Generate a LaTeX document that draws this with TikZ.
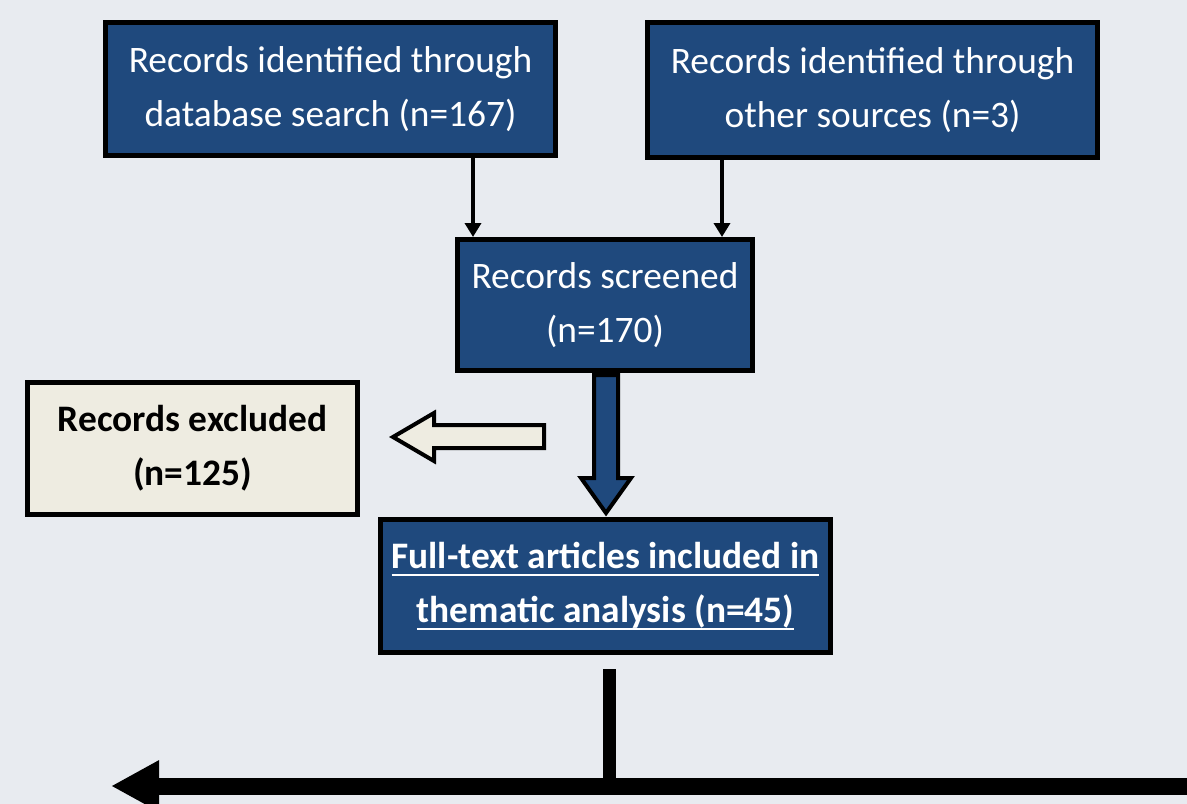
\documentclass[tikz,border=0pt]{standalone}
\usepackage{fontspec}
\setmainfont{Carlito}
\usetikzlibrary{arrows.meta,calc}
\definecolor{bgc}{HTML}{E8EBF0}
\definecolor{boxblue}{HTML}{1F497D}
\definecolor{beige}{HTML}{EEECE1}
\newcommand\myul[1]{\setbox0\hbox{#1}\rlap{\rule[-8bp]{\wd0}{2.5bp}}\box0}
\begin{document}
\begin{tikzpicture}[x=1bp,y=-1bp,
  boxbase/.style={draw=black, line width=5bp, align=center, inner sep=0pt,
    font=\fontsize{37.4bp}{54bp}\selectfont},
  bluebox/.style={boxbase, fill=boxblue, text=white},
  beigebox/.style={boxbase, fill=beige, text=black},
  thinarrow/.style={draw=black, line width=4.5bp, -{Triangle[length=14bp 0 0, width=16bp 0 0]}},
  blockarrow/.style={draw=black, line width=4bp, line join=miter},
  thickline/.style={draw=black, line width=13bp},
  bigarrow/.style={draw=black, line width=17bp, -{Triangle[length=48bp 0 0, width=48bp 0 0]}}
]
\useasboundingbox (0,0) rectangle (1187,804);
\clip (0,0) rectangle (1187,804);
\fill[bgc] (0,0) rectangle (1187,804);

\node[bluebox, minimum width=450bp, minimum height=133bp] (db) at (330.5,89)
  {Records identified through\\database search (n=167)};
\node[bluebox, minimum width=450bp, minimum height=135bp] (other) at (872.5,90)
  {Records identified through\\other sources (n=3)};
\node[bluebox, minimum width=295bp, minimum height=131bp] (screen) at (605,305)
  {Records screened\\(n=170)};
\node[beigebox, minimum width=330bp, minimum height=132bp, font=\fontsize{37.4bp}{54bp}\selectfont\bfseries] (excl) at (192.5,448.5)
  {Records excluded\\(n=125)};
\node[bluebox, minimum width=450bp, minimum height=133bp, font=\fontsize{37.4bp}{54bp}\selectfont\bfseries] (full) at (605.5,586)
  {\myul{Full-text articles included in}\\\myul{thematic analysis (n=45)}};

% thin arrows
\draw[thinarrow] ([xshift=142.5bp]db.south) -- ([xshift=142.5bp]db.south |- screen.north);
\draw[thinarrow] ([xshift=-150.5bp]other.south) -- ([xshift=-150.5bp]other.south |- screen.north);

% block arrow down
\begin{scope}[shift={(screen.south)}]
\draw[blockarrow, fill=boxblue] (-11,2) -- (13,2) -- (13,105) -- (26,105) -- (1,140) -- (-24,105) -- (-11,105) -- cycle;
\end{scope}

% hollow arrow left
\draw[blockarrow, fill=beige] (544,425) -- (434,425) -- (434,413) -- (393,437) -- (434,461) -- (434,448) -- (544,448) -- cycle;

% bottom connector
\coordinate (bend) at (609,786);
\coordinate (rightend) at (1200,786);
\coordinate (leftend) at (111,786);
\draw[thickline] ([yshift=-14bp]full.south -| bend) -- ([yshift=-8bp]bend);
\draw[bigarrow] (rightend) -- (leftend);
\end{tikzpicture}
\end{document}
